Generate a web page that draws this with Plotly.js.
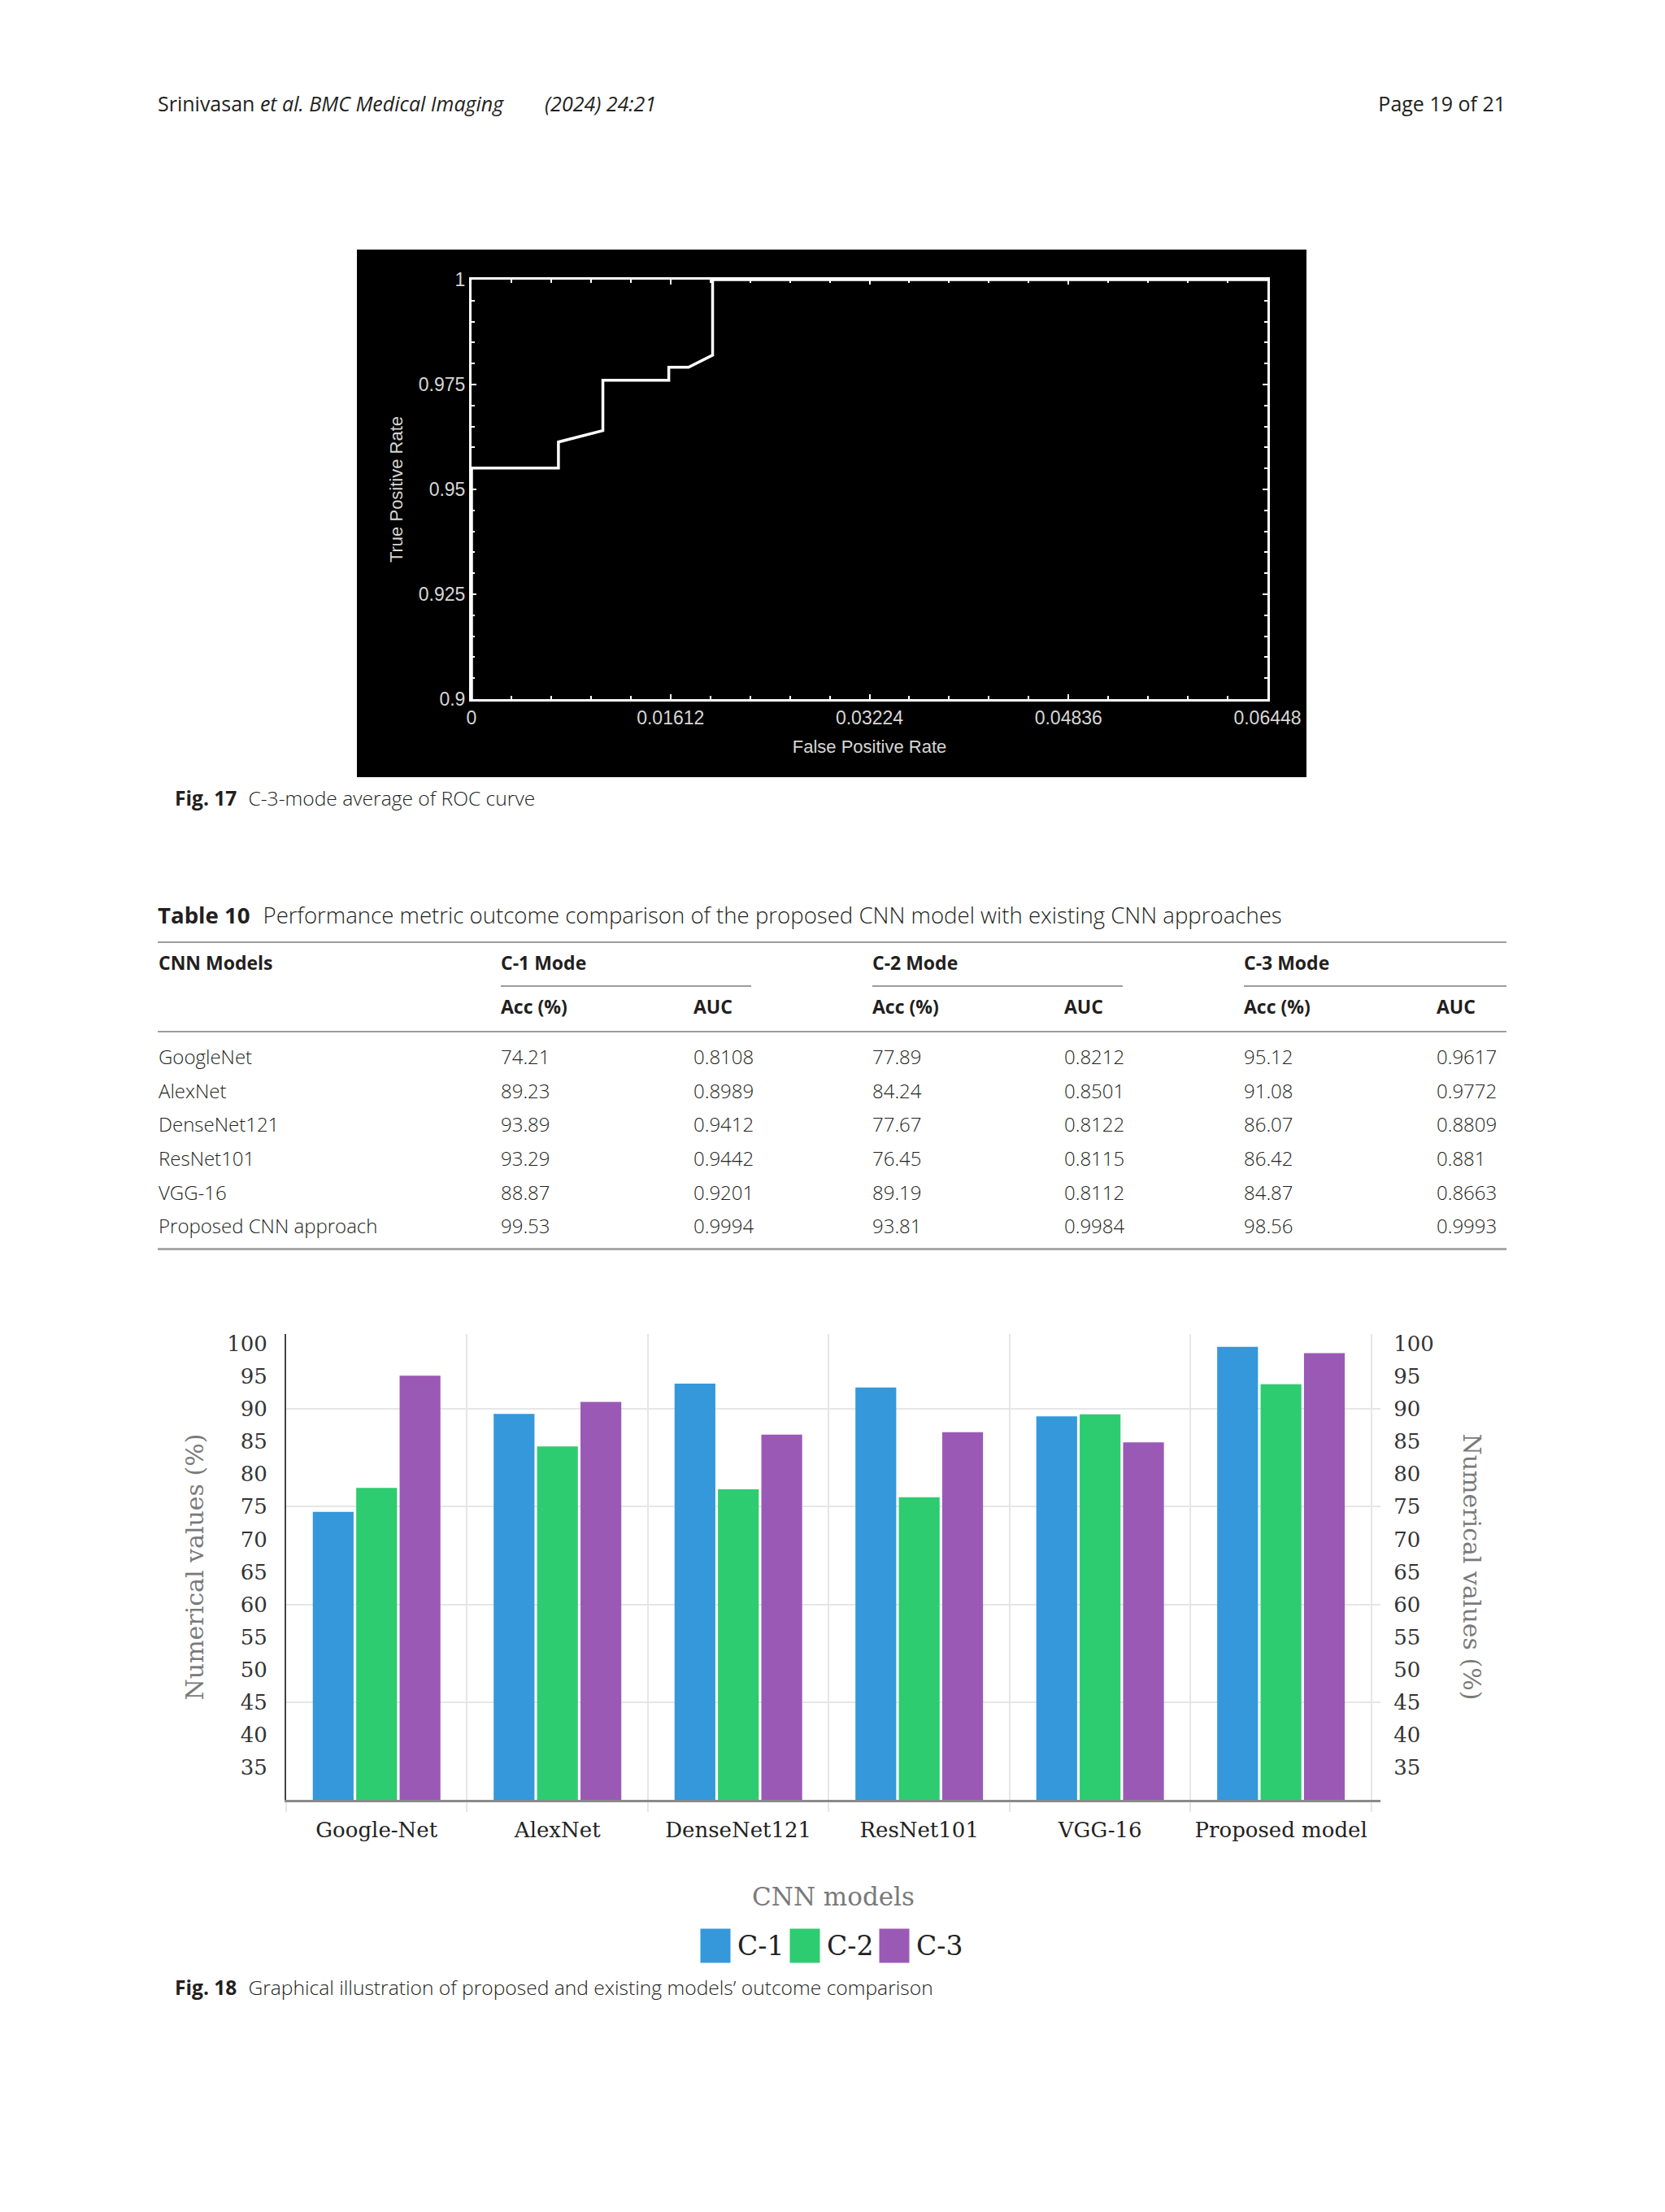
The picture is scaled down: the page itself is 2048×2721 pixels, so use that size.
<!DOCTYPE html>
<html><head><meta charset="utf-8">
<script src="https://cdn.plot.ly/plotly-3.0.1.min.js"></script>
<style>
html,body{margin:0;padding:0;background:#fff;}
body{width:2048px;height:2721px;position:relative;overflow:hidden;font-family:'Open Sans',sans-serif;color:#231f20;}
.t{position:absolute;white-space:nowrap;line-height:1;transform:translateY(-50%);}
.b{font-weight:bold;}
.i{font-style:italic;}
.l{font-weight:300;}
#roc{position:absolute;left:439px;top:307px;width:1168px;height:649px;}
#bars{position:absolute;left:150px;top:1600px;width:1750px;height:820px;}
.rule{position:absolute;height:0;}
</style></head>
<body>
<div class="t" style="left:194px;top:127px;font-size:25px;">Srinivasan <span class="i">et al. BMC Medical Imaging</span></div>
<div class="t i" style="left:670px;top:127px;font-size:25px;">(2024) 24:21</div>
<div class="t" style="right:196px;top:127px;font-size:25px;">Page 19 of 21</div>

<div id="roc"></div>
<div class="t" style="left:215px;top:982px;font-size:24.6px;"><span class="b">Fig. 17</span><span class="l" style="margin-left:14px;">C-3-mode average of ROC curve</span></div>

<div class="t" style="left:194px;top:1126px;font-size:27.6px;"><span class="b">Table 10</span><span class="l" style="margin-left:16px;">Performance metric outcome comparison of the proposed CNN model with existing CNN approaches</span></div>
<div id="table"></div>

<div id="bars"></div>
<div class="t" style="left:215px;top:2445px;font-size:24.6px;"><span class="b">Fig. 18</span><span class="l" style="margin-left:14px;">Graphical illustration of proposed and existing models’ outcome comparison</span></div>

<script>
// ---------- Data ----------
// ROC curve (Fig. 17)
const fpr = [0, 0, 0.00704, 0.00704, 0.01064, 0.01064, 0.01598, 0.01598, 0.01758, 0.01953, 0.01953, 0.06448];
const tpr = [0.9, 0.9551, 0.9551, 0.9613, 0.9640, 0.9760, 0.9760, 0.9791, 0.9791, 0.9820, 1.0, 1.0];
const fprTicks = [0, 0.01612, 0.03224, 0.04836, 0.06448];
const fprTickText = ['0', '0.01612', '0.03224', '0.04836', '0.06448'];
const tprTicks = [0.9, 0.925, 0.95, 0.975, 1];
const tprTickText = ['0.9', '0.925', '0.95', '0.975', '1'];

// Table 10
const tableModels = ['GoogleNet', 'AlexNet', 'DenseNet121', 'ResNet101', 'VGG-16', 'Proposed CNN approach'];
const c1Acc = [74.21, 89.23, 93.89, 93.29, 88.87, 99.53];
const c1Auc = [0.8108, 0.8989, 0.9412, 0.9442, 0.9201, 0.9994];
const c2Acc = [77.89, 84.24, 77.67, 76.45, 89.19, 93.81];
const c2Auc = [0.8212, 0.8501, 0.8122, 0.8115, 0.8112, 0.9984];
const c3Acc = [95.12, 91.08, 86.07, 86.42, 84.87, 98.56];
const c3Auc = [0.9617, 0.9772, 0.8809, 0.881, 0.8663, 0.9993];

// Fig. 18
const chartModels = ['Google-Net', 'AlexNet', 'DenseNet121', 'ResNet101', 'VGG-16', 'Proposed model'];
const seriesNames = ['C-1', 'C-2', 'C-3'];
const seriesColors = ['#3498db', '#2ecc71', '#9b59b6'];
const yTicks = [35, 40, 45, 50, 55, 60, 65, 70, 75, 80, 85, 90, 95, 100];
const gridVals = [45, 60, 75, 90];

// ---------- ROC chart ----------
Plotly.newPlot('roc', [{
  type: 'scatter', mode: 'lines', x: fpr, y: tpr,
  line: {color: '#ffffff', width: 3.5}, hoverinfo: 'skip'
}], {
  width: 1168, height: 649,
  paper_bgcolor: '#000', plot_bgcolor: '#000',
  margin: {l: 141, r: 48, t: 37, b: 96},
  showlegend: false,
  font: {family: 'Liberation Sans, Arial, sans-serif', size: 23, color: '#d6d6d6'},
  xaxis: {
    range: [0, 0.06448], tickmode: 'array', tickvals: fprTicks, ticktext: fprTickText,
    showline: true, linecolor: '#fff', linewidth: 3, mirror: 'allticks',
    ticks: 'inside', ticklen: 6, tickwidth: 2, tickcolor: '#fff',
    showgrid: false, zeroline: false,
    minor: {tickmode: 'linear', tick0: 0, dtick: 0.003224, ticks: 'inside', ticklen: 4, tickwidth: 2, tickcolor: '#fff', showgrid: false},
    title: {text: 'False Positive Rate', font: {size: 22, color: '#d6d6d6'}, standoff: 17}
  },
  yaxis: {
    range: [0.9, 1], tickmode: 'array', tickvals: tprTicks, ticktext: tprTickText,
    showline: true, linecolor: '#fff', linewidth: 3, mirror: 'allticks',
    ticks: 'inside', ticklen: 6, tickwidth: 2, tickcolor: '#fff',
    showgrid: false, zeroline: false,
    minor: {tickmode: 'linear', tick0: 0.9, dtick: 0.005, ticks: 'inside', ticklen: 4, tickwidth: 2, tickcolor: '#fff', showgrid: false},
    title: {text: 'True Positive Rate', font: {size: 22, color: '#d6d6d6'}, standoff: 14}
  }
}, {staticPlot: true});

// ---------- Table ----------
(function () {
  const host = document.getElementById('table');
  const colX = [616, 853, 1073, 1309, 1530, 1767];
  const rowY = [1300, 1342, 1383, 1425, 1467, 1508];
  const add = (html, left, top, size, cls) => {
    const d = document.createElement('div');
    d.className = 't ' + (cls || '');
    d.style.left = left + 'px'; d.style.top = top + 'px'; d.style.fontSize = size + 'px';
    d.innerHTML = html; host.appendChild(d);
  };
  const rule = (left, width, top, w, c) => {
    const d = document.createElement('div');
    d.className = 'rule';
    d.style.left = left + 'px'; d.style.width = width + 'px'; d.style.top = top + 'px';
    d.style.borderTop = w + 'px solid ' + c; host.appendChild(d);
  };
  rule(194, 1659, 1158, 2, '#9d9d9d');
  rule(616, 308, 1212, 2, '#9d9d9d');
  rule(1073, 308, 1212, 2, '#9d9d9d');
  rule(1530, 323, 1212, 2, '#9d9d9d');
  rule(194, 1659, 1268, 2, '#9d9d9d');
  rule(194, 1659, 1535, 3, '#a8a8a8');
  add('CNN Models', 195, 1184, 23, 'b');
  ['C-1 Mode', 'C-2 Mode', 'C-3 Mode'].forEach((s, k) => add(s, colX[2 * k], 1184, 23, 'b'));
  for (let k = 0; k < 3; k++) { add('Acc (%)', colX[2 * k], 1238, 23, 'b'); add('AUC', colX[2 * k + 1], 1238, 23, 'b'); }
  const cols = [c1Acc, c1Auc, c2Acc, c2Auc, c3Acc, c3Auc];
  tableModels.forEach((m, r) => {
    add(m, 195, rowY[r], 24, 'l');
    cols.forEach((arr, c) => add(String(arr[r]), colX[c], rowY[r], 24, 'l'));
  });
})();

// ---------- Bar chart ----------
const yRange = [30, 101.5];
const barTraces = [c1Acc, c2Acc, c3Acc].map((vals, k) => ({
  type: 'bar', name: seriesNames[k], x: chartModels, y: vals,
  marker: {color: seriesColors[k], line: {width: 0}}, hoverinfo: 'skip'
}));
const dummy = ['y2', 'y3'].map(ax => ({
  type: 'scatter', mode: 'markers', x: [chartModels[0]], y: [c1Acc[0]], yaxis: ax,
  marker: {opacity: 0}, hoverinfo: 'skip', showlegend: false
}));

const plotL = 352 - 150, plotR = 1698 - 150, plotT = 1641 - 1600, plotB = 2214 - 1600;
const W = 1750, H = 820;
const pw = plotR - plotL, ph = plotB - plotT;
const px2x = px => (px - 150 - plotL) / pw;
const py2y = py => (plotB - (py - 1600)) / ph;

const annotations = [];
// right axis title (rotated clockwise as in the reference)
annotations.push({xref: 'paper', yref: 'paper', x: px2x(1810), y: 0.5, text: 'Numerical values (%)',
  textangle: 90, showarrow: false, font: {size: 30, color: '#7a7a7a'}, xanchor: 'center', yanchor: 'middle'});
// legend
const legStart = 861, legStep = 110, legY = py2y(2393);
seriesNames.forEach((n, k) => {
  const x0 = legStart + k * legStep;
  annotations.push({xref: 'paper', yref: 'paper', x: px2x(x0), y: legY, xanchor: 'left', yanchor: 'middle',
    text: ' ', showarrow: false, bgcolor: seriesColors[k], width: 36, height: 41, borderpad: 0, font: {size: 10}});
  annotations.push({xref: 'paper', yref: 'paper', x: px2x(x0 + 44), y: legY, xanchor: 'left', yanchor: 'middle',
    text: n, showarrow: false, font: {size: 33, color: '#222'}});
});

const yTickCommon = {
  overlaying: 'y', anchor: 'x', range: yRange, tickmode: 'array', tickvals: yTicks,
  showgrid: false, zeroline: false, ticks: 'outside', tickcolor: 'rgba(0,0,0,0)',
  tickfont: {size: 26, color: '#333'}
};

Plotly.newPlot('bars', barTraces.concat(dummy), {
  width: W, height: H,
  margin: {l: plotL, r: W - plotR, t: plotT, b: H - plotB},
  paper_bgcolor: 'rgba(0,0,0,0)', plot_bgcolor: '#fff',
  barmode: 'group', bargap: 0.28, bargroupgap: 0.06, showlegend: false,
  font: {family: 'DejaVu Serif, serif', size: 26, color: '#333'},
  xaxis: {
    type: 'category', tickson: 'boundaries', showgrid: true, gridcolor: '#e6e6e6', gridwidth: 2,
    ticks: 'outside', ticklen: 12, tickwidth: 2, tickcolor: '#e6e6e6', ticklabelstandoff: 12,
    showline: true, linecolor: '#8a8a8a', linewidth: 3, range: [-0.5, 5.55],
    tickfont: {size: 26, color: '#222'},
    title: {text: 'CNN models', font: {size: 31, color: '#7a7a7a'}, standoff: 58}
  },
  yaxis: {
    range: yRange, tickmode: 'array', tickvals: gridVals, showticklabels: false,
    showgrid: true, gridcolor: '#e6e6e6', gridwidth: 2, zeroline: false, showline: false, ticks: ''
  },
  yaxis2: Object.assign({}, yTickCommon, {side: 'left', ticklen: 16, showline: true, linecolor: '#444', linewidth: 2,
    title: {text: 'Numerical values (%)', font: {size: 30, color: '#7a7a7a'}, standoff: 20}}),
  yaxis3: Object.assign({}, yTickCommon, {side: 'right', ticklen: 10, showline: false}),
  annotations: annotations
}, {staticPlot: true});
</script>
</body></html>
